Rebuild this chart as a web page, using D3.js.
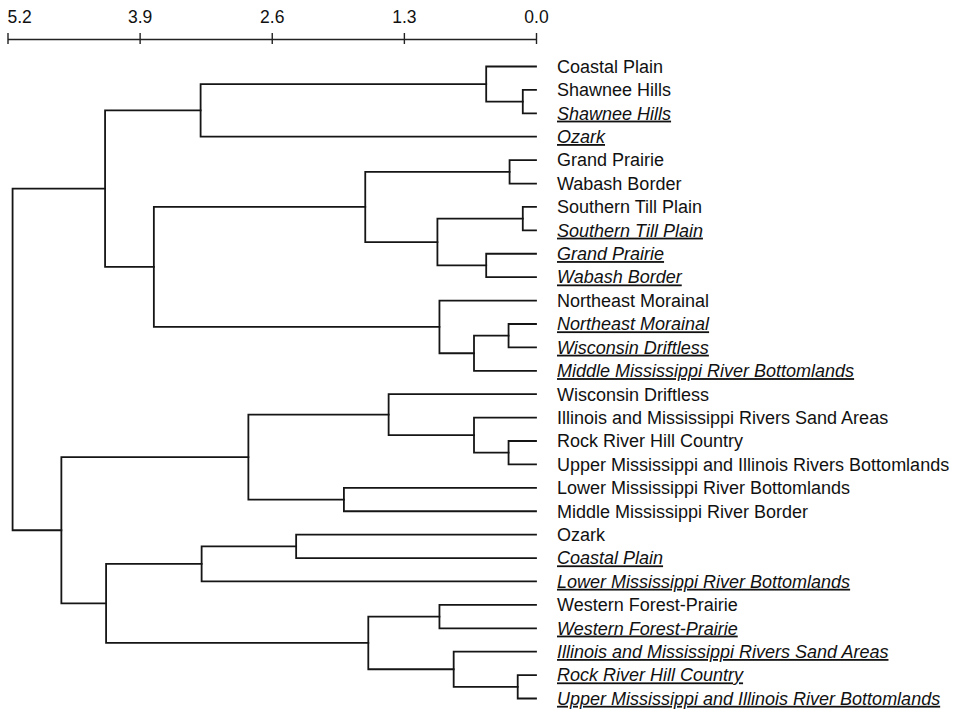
<!DOCTYPE html>
<html>
<head>
<meta charset="utf-8">
<script src="https://cdn.jsdelivr.net/npm/d3@7"></script>
<style>
  html, body { margin: 0; padding: 0; background: #fff; }
  svg { display: block; }
  text { font-family: "Liberation Sans", Arial, Helvetica, sans-serif; fill: #111; }
</style>
</head>
<body>
<svg id="chart" width="955" height="712"></svg>
<script>
// Leaf labels, top to bottom
const leafNames = [
  "Coastal Plain",
  "Shawnee Hills",
  "Shawnee Hills",
  "Ozark",
  "Grand Prairie",
  "Wabash Border",
  "Southern Till Plain",
  "Southern Till Plain",
  "Grand Prairie",
  "Wabash Border",
  "Northeast Morainal",
  "Northeast Morainal",
  "Wisconsin Driftless",
  "Middle Mississippi River Bottomlands",
  "Wisconsin Driftless",
  "Illinois and Mississippi Rivers Sand Areas",
  "Rock River Hill Country",
  "Upper Mississippi and Illinois Rivers Bottomlands",
  "Lower Mississippi River Bottomlands",
  "Middle Mississippi River Border",
  "Ozark",
  "Coastal Plain",
  "Lower Mississippi River Bottomlands",
  "Western Forest-Prairie",
  "Western Forest-Prairie",
  "Illinois and Mississippi Rivers Sand Areas",
  "Rock River Hill Country",
  "Upper Mississippi and Illinois River Bottomlands"
];

// Second group of samples (set in italic, underlined)
const leafItalic = [
  false, false, true, true, false, false, false, true, true, true,
  false, true, true, true, false, false, false, false, false, false,
  false, true, true, false, true, true, true, true
];

// Agglomeration steps: ids < 28 are leaves, id 28 + k is the cluster made at step k
const merges = [
  [1, 2], [0, 28], [29, 3], [4, 5], [6, 7], [8, 9], [32, 33], [31, 34],
  [11, 12], [36, 13], [10, 37], [35, 38], [30, 39], [16, 17], [15, 41],
  [14, 42], [18, 19], [43, 44], [20, 21], [46, 22], [23, 24], [26, 27],
  [25, 49], [48, 50], [47, 51], [45, 52], [40, 53]
];

// Linkage distance at each step
const mergeHeights = [
  0.13, 0.49, 3.30, 0.26, 0.13, 0.49, 0.97, 1.68,
  0.27, 0.61, 0.95, 3.76, 4.24, 0.27, 0.61,
  1.45, 1.89, 2.83, 2.36, 3.29, 0.95, 0.18,
  0.81, 1.65, 4.23, 4.67, 5.15
];

// Distance scale ticks
const tickValues = [5.2, 3.9, 2.6, 1.3, 0.0];

const nLeaves = leafNames.length;

// Build nested nodes from the merge list
const nodes = leafNames.map((name, i) => ({ id: i, name, italic: leafItalic[i], h: 0 }));
merges.forEach((pair, k) => {
  nodes.push({ id: nLeaves + k, h: mergeHeights[k], children: pair.map(j => nodes[j]) });
});
const root = d3.hierarchy(nodes[nodes.length - 1]);

const svg = d3.select("#chart");

const x = d3.scaleLinear().domain([5.2, 0]).range([7.5, 536]);
const leafY = d3.scalePoint().domain(d3.range(nLeaves)).range([66.5, 698.5]);

// Leaves sit on their row; each cluster sits midway between its two branches
root.eachAfter(d => {
  d.px = x(d.data.h);
  d.py = d.children ? d3.mean(d.children, c => c.py) : leafY(d.data.id);
});

// Axis
const axisY = 39;
const axisG = svg.append("g")
  .attr("transform", `translate(0,${axisY})`)
  .call(d3.axisTop(x).tickValues(tickValues).tickFormat(d3.format(".1f")).tickSizeOuter(0).tickSizeInner(6).tickPadding(0));
axisG.select(".domain").attr("stroke", "#222").attr("stroke-width", 1.6);
axisG.selectAll(".tick line").attr("y1", -6).attr("y2", 5).attr("stroke", "#222").attr("stroke-width", 1.4);
axisG.selectAll(".tick text")
  .attr("y", -16)
  .attr("dy", 0)
  .style("font-size", "17.5px")
  .style("font-family", "\"Liberation Sans\", Arial, sans-serif")
  .attr("fill", "#111");
axisG.selectAll(".tick text").filter(d => d === 5.2)
  .attr("text-anchor", "start").attr("x", -0.5);

// Branches drawn as elbows
const links = svg.append("g")
  .attr("fill", "none")
  .attr("stroke", "#151515")
  .attr("stroke-width", 1.8)
  .attr("stroke-linecap", "square");

root.descendants().filter(d => d.children).forEach(d => {
  const [a, b] = d.children;
  links.append("path")
    .attr("d", `M${a.px},${a.py}H${d.px}V${b.py}H${b.px}`);
});

// Leaf labels
svg.append("g").selectAll("text")
  .data(root.leaves())
  .join("text")
  .attr("x", 557)
  .attr("y", d => d.py)
  .attr("dy", "0.35em")
  .style("font-size", "18px")
  .style("font-style", d => d.data.italic ? "italic" : "normal")
  .style("text-decoration", d => d.data.italic ? "underline" : "none")
  .text(d => d.data.name);
</script>
</body>
</html>
